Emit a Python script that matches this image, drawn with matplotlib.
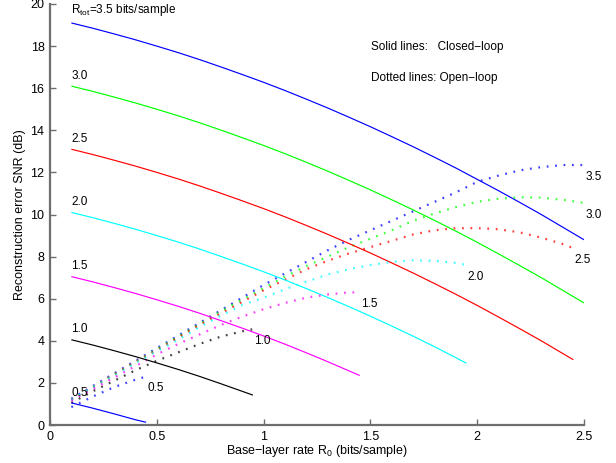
import matplotlib
matplotlib.use("Agg")
import matplotlib.pyplot as plt

plt.rcParams['font.family'] = ['Liberation Sans', 'DejaVu Sans']
plt.rcParams['mathtext.fontset'] = 'custom'
plt.rcParams['mathtext.rm'] = 'Liberation Sans'
plt.rcParams['mathtext.it'] = 'Liberation Sans:italic'

# total rates, one curve pair per rate (MATLAB colour order b g r c m k b)
r_tot = [3.5, 3.0, 2.5, 2.0, 1.5, 1.0, 0.5]
colors = ['#0000ff', '#00ff00', '#ff0000', '#00ffff', '#ff00ff', '#000000', '#0000ff']

# base-layer rate grid, each curve stops at min(R_tot - 0.05, 2.5)
r0_grid = [0.1, 0.2, 0.3, 0.4, 0.5, 0.6, 0.7, 0.8, 0.9, 1.0, 1.1, 1.2, 1.3,
           1.4, 1.5, 1.6, 1.7, 1.8, 1.9, 2.0, 2.1, 2.2, 2.3, 2.4, 2.5]

# closed-loop SNR (solid)
closed_35 = [19.1, 18.85, 18.58, 18.3, 18.0, 17.69, 17.36, 17.01, 16.65, 16.28, 15.89, 15.48,
             15.06, 14.62, 14.17, 13.7, 13.22, 12.72, 12.21, 11.67, 11.13, 10.57, 10.0, 9.4, 8.8]
closed_30 = [16.1, 15.85, 15.58, 15.3, 15.0, 14.69, 14.36, 14.01, 13.65, 13.28, 12.89, 12.48,
             12.06, 11.62, 11.17, 10.7, 10.22, 9.72, 9.21, 8.68, 8.13, 7.57, 7.0, 6.4, 5.8]
closed_25 = [13.1, 12.85, 12.58, 12.3, 12.0, 11.69, 11.36, 11.01, 10.65, 10.28, 9.89, 9.48,
             9.06, 8.62, 8.17, 7.7, 7.22, 6.72, 6.21, 5.68, 5.13, 4.57, 4.0, 3.4, 3.1]
closed_20 = [10.1, 9.85, 9.58, 9.3, 9.0, 8.69, 8.36, 8.01, 7.65, 7.28, 6.89, 6.48,
             6.06, 5.62, 5.17, 4.7, 4.22, 3.72, 3.2, 2.93]
closed_15 = [7.05, 6.80, 6.53, 6.25, 5.95, 5.64, 5.31, 4.96, 4.60, 4.23, 3.84, 3.43, 3.01, 2.57, 2.35]
closed_10 = [4.05, 3.80, 3.53, 3.25, 2.95, 2.64, 2.31, 1.96, 1.60, 1.42]
closed_05 = [1.05, 0.80, 0.53, 0.25, 0.13]

# open-loop SNR (dotted)
open_35 = [1.25, 1.85, 2.45, 3.05, 3.65, 4.25, 4.85, 5.45, 6.05, 6.65, 7.2, 7.75, 8.3,
           8.8, 9.25, 9.7, 10.15, 10.6, 11.05, 11.55, 11.85, 12.1, 12.25, 12.35, 12.35]
open_30 = [1.2, 1.8, 2.4, 3.0, 3.6, 4.2, 4.8, 5.4, 5.95, 6.5, 7.05, 7.55, 8.0,
           8.45, 8.85, 9.25, 9.7, 10.05, 10.35, 10.6, 10.75, 10.82, 10.8, 10.7, 10.55]
open_25 = [1.2, 1.8, 2.4, 3.0, 3.55, 4.15, 4.75, 5.3, 5.85, 6.4, 6.9, 7.4, 7.8,
           8.15, 8.45, 8.75, 9.05, 9.25, 9.35, 9.35, 9.3, 9.15, 8.9, 8.6, 8.4]
open_20 = [1.2, 1.8, 2.35, 2.95, 3.5, 4.05, 4.65, 5.2, 5.7, 6.05, 6.45, 6.8, 7.15,
           7.4, 7.6, 7.75, 7.82, 7.8, 7.7, 7.6]
open_15 = [1.15, 1.7, 2.25, 2.8, 3.35, 3.85, 4.3, 4.75, 5.15, 5.5, 5.8, 6.05, 6.2, 6.3, 6.3]
open_10 = [1.05, 1.6, 2.1, 2.6, 3.05, 3.45, 3.85, 4.2, 4.45, 4.55]
open_05 = [0.85, 1.35, 1.8, 2.15, 2.3]

closed = [closed_35, closed_30, closed_25, closed_20, closed_15, closed_10, closed_05]
opened = [open_35, open_30, open_25, open_20, open_15, open_10, open_05]

fig = plt.figure(figsize=(6.16, 4.63), dpi=100)
ax = fig.add_axes([50 / 616, 38 / 463, 534 / 616, 421 / 463])

for rt, col, ys_c, ys_o in zip(r_tot, colors, closed, opened):
    end = min(rt - 0.05, 2.5)
    xs = [r for r in r0_grid if r < end - 1e-9] + [end]
    ax.plot(xs, ys_c, color=col, lw=0.85, solid_capstyle='butt')
    ax.plot(xs, ys_o, color=col, lw=1.6, alpha=0.75, linestyle=(0, (0.8, 3.0)),
            dash_capstyle='butt')
    # label at the start of the closed-loop curve
    if rt == r_tot[0]:
        lab = r'$\mathregular{R_{tot}}$=%.1f bits/sample' % rt
        ax.text(xs[0], ys_c[0] + 0.45, lab, fontsize=8.5, ha='left', va='baseline')
    else:
        ax.text(xs[0], ys_c[0] + 0.35, '%.1f' % rt, fontsize=8.5, ha='left', va='baseline')
    # label at the end of the open-loop curve
    ax.text(xs[-1] + 0.005, ys_o[-1] - 0.7, '%.1f' % rt, fontsize=8.5, ha='left', va='baseline')

ax.text(1.503, 17.8, 'Solid lines:   Closed\u2212loop', fontsize=8.5, va='baseline')
ax.text(1.503, 16.33, 'Dotted lines: Open\u2212loop', fontsize=8.5, va='baseline')

ax.set_xlim(0, 2.5)
ax.set_ylim(0, 20)
ax.set_xticks([0, 0.5, 1, 1.5, 2, 2.5])
ax.set_xticklabels(['0', '0.5', '1', '1.5', '2', '2.5'])
ax.set_yticks(range(0, 21, 2))

for s in ['top', 'right']:
    ax.spines[s].set_visible(False)
for s in ['left', 'bottom']:
    ax.spines[s].set_color('#6e6e6e')
    ax.spines[s].set_linewidth(1.6)
ax.tick_params(direction='in', length=4, width=1.0, color='#6e6e6e',
               labelsize=9, labelcolor='black', pad=4)

ax.set_xlabel('Base\u2212layer rate R$_0$ (bits/sample)', fontsize=9, labelpad=0)
ax.set_ylabel('Reconstruction error SNR (dB)', fontsize=9)
ax.yaxis.set_label_coords(-0.045, 0.5)

fig.savefig('out.png', dpi=100)
